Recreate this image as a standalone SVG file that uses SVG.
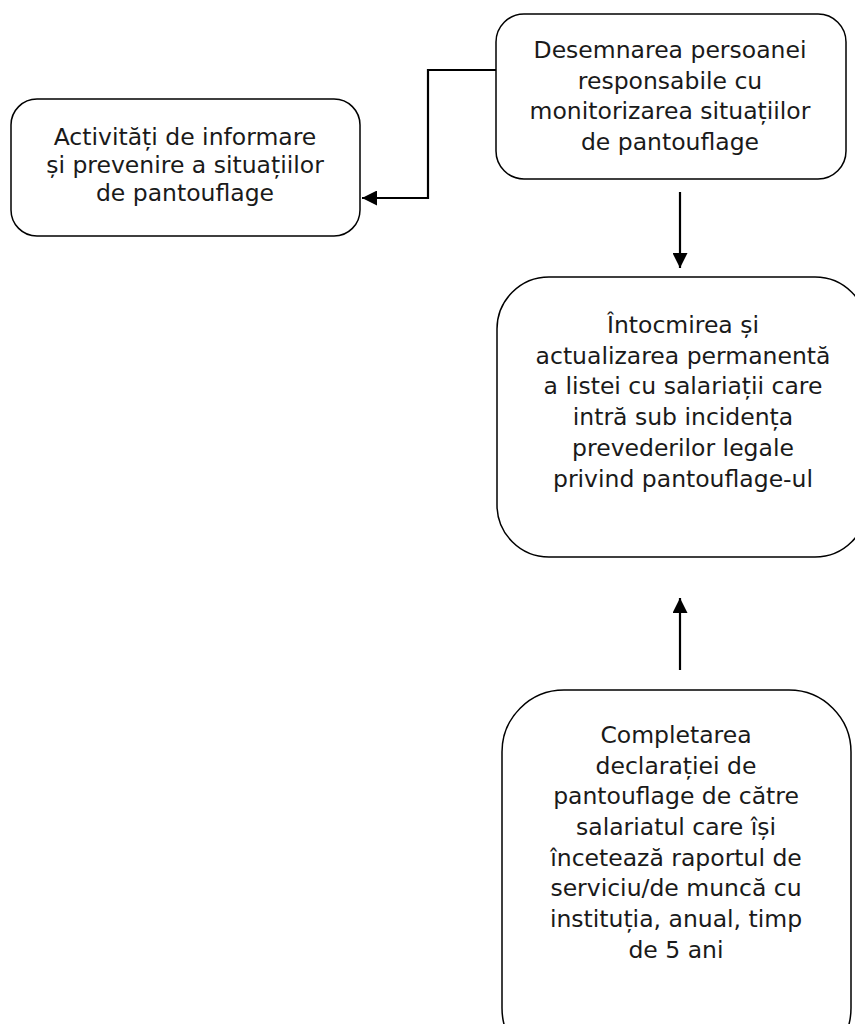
<svg xmlns="http://www.w3.org/2000/svg" width="855" height="1024" viewBox="0 0 855 1024">
<defs>
<style>
.box{fill:#fff;stroke:#000;stroke-width:1.5}
.t{font-family:"DejaVu Sans",Verdana,sans-serif;font-size:23.5px;fill:#1a1a1a;text-anchor:middle}
.c{fill:none;stroke:#000;stroke-width:2.2}
</style>
<marker id="a" viewBox="0 0 14 14" refX="14" refY="7" markerWidth="15" markerHeight="15" markerUnits="userSpaceOnUse" orient="auto">
<path d="M0,0 L14,7 L0,14 z" fill="#000"/>
</marker>
</defs>
<rect width="855" height="1024" fill="#fff"/>
<g id="connectors">
<path class="c" d="M496,70 H428 V198 H362" marker-end="url(#a)"/>
<path class="c" d="M680,192 V268" marker-end="url(#a)"/>
<path class="c" d="M680,670 V598" marker-end="url(#a)"/>
</g>
<g id="n1">
<rect class="box" x="11" y="99" width="349" height="137" rx="26"/>
<text class="t" x="185" y="145">Activități de informare</text>
<text class="t" x="185" y="173">și prevenire a situațiilor</text>
<text class="t" x="185" y="201">de pantouflage</text>
</g>
<g id="n2">
<rect class="box" x="496" y="14" width="350" height="165" rx="28"/>
<text class="t" x="670" y="58">Desemnarea persoanei</text>
<text class="t" x="670" y="89">responsabile cu</text>
<text class="t" x="670" y="119">monitorizarea situațiilor</text>
<text class="t" x="670" y="150">de pantouflage</text>
</g>
<g id="n3">
<rect class="box" x="497" y="277" width="370" height="280" rx="52"/>
<text class="t" x="683" y="333">Întocmirea și</text>
<text class="t" x="683" y="364">actualizarea permanentă</text>
<text class="t" x="683" y="394">a listei cu salariații care</text>
<text class="t" x="683" y="425">intră sub incidența</text>
<text class="t" x="683" y="456">prevederilor legale</text>
<text class="t" x="683" y="487">privind pantouflage-ul</text>
</g>
<g id="n4">
<rect class="box" x="502" y="690" width="349" height="380" rx="62"/>
<text class="t" x="676" y="743">Completarea</text>
<text class="t" x="676" y="774">declarației de</text>
<text class="t" x="676" y="804">pantouflage de către</text>
<text class="t" x="676" y="835">salariatul care își</text>
<text class="t" x="676" y="866">încetează raportul de</text>
<text class="t" x="676" y="896">serviciu/de muncă cu</text>
<text class="t" x="676" y="927">instituția, anual, timp</text>
<text class="t" x="676" y="958">de 5 ani</text>
</g>
</svg>
